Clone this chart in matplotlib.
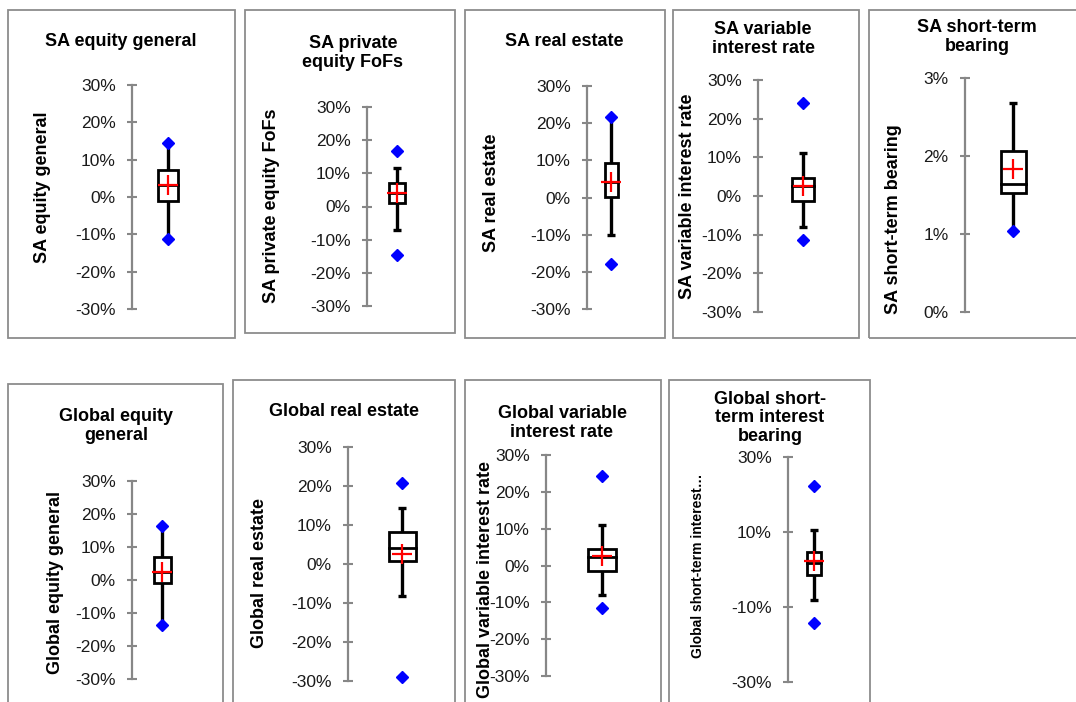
import numpy as np
import matplotlib
matplotlib.use("Agg")
import matplotlib.pyplot as plt
from matplotlib.patches import Rectangle
from matplotlib.ticker import FuncFormatter

plt.rcParams['font.family'] = ['Liberation Sans', 'DejaVu Sans']

# ---------------- data (fractions) ----------------
titles = ["SA equity general", "SA private\nequity FoFs", "SA real estate",
          "SA variable\ninterest rate", "SA short-term\nbearing",
          "Global equity\ngeneral", "Global real estate",
          "Global variable\ninterest rate", "Global short-\nterm interest\nbearing"]
ylabels = ["SA equity general", "SA private equity FoFs", "SA real estate",
           "SA variable interest rate", "SA short-term bearing",
           "Global equity general", "Global real estate",
           "Global variable interest rate", "Global short-term interest\u2026"]
minimum = [-0.113, -0.146, -0.178, -0.114, 0.0104, -0.136, -0.290, -0.116, -0.143]
whisk_lo = [-0.113, -0.070, -0.100, -0.080, 0.0104, -0.136, -0.082, -0.080, -0.082]
q1 = [-0.010, 0.011, 0.001, -0.012, 0.0153, -0.009, 0.008, -0.015, -0.015]
median = [0.032, 0.041, 0.042, 0.027, 0.0164, 0.024, 0.041, 0.023, 0.018]
mean = [0.033, 0.041, 0.042, 0.027, 0.0183, 0.024, 0.026, 0.025, 0.023]
q3 = [0.072, 0.071, 0.094, 0.046, 0.0206, 0.070, 0.082, 0.045, 0.047]
whisk_hi = [0.145, 0.116, 0.216, 0.111, 0.0268, 0.164, 0.144, 0.110, 0.105]
maximum = [0.145, 0.168, 0.216, 0.241, np.nan, 0.164, 0.208, 0.243, 0.223]
y_limits = [(-0.3, 0.3)] * 4 + [(0.0, 0.03)] + [(-0.3, 0.3)] * 4
y_ticks = [[-0.3, -0.2, -0.1, 0, 0.1, 0.2, 0.3]] * 4 + [[0, 0.01, 0.02, 0.03]] + \
          [[-0.3, -0.2, -0.1, 0, 0.1, 0.2, 0.3]] * 3 + [[-0.3, -0.1, 0.1, 0.3]]

# ---------------- layout (pixels) ----------------
W, H = 1076, 702
# axis_x, box_x, box_w, y_top(px of ylim max), y_bot(px of ylim min)
axes_geom = [(132, 168, 20, 85, 309),
             (367, 397, 16, 107, 306),
             (587, 611, 13, 86, 309),
             (758, 803, 22, 80, 312),
             (965, 1013, 25, 78, 312),
             (132, 162, 17, 481, 679),
             (348, 402, 27, 447, 681),
             (546, 602, 28, 455, 676),
             (788, 814, 14, 457, 682)]
frames = [(8, 10, 235, 338), (245, 10, 455, 333), (465, 10, 665, 338),
          (673, 10, 859, 338), (869, 10, 1090, 338),
          (8, 384, 223, 720), (233, 380, 455, 720), (465, 380, 661, 720),
          (669, 380, 870, 720)]
title_pos = [(121, 42), (353, 53), (564, 42), (763, 39), (977, 37),
             (116, 426), (344, 412), (562, 423), (770, 418)]
ylabel_pos = [(43, 187), (272, 206), (492, 193), (688, 196), (893, 219),
              (56, 583), (259, 573), (486, 580), (698, 566)]
ylabel_size = [13, 13, 13, 13, 13, 13, 13, 13, 10]

fig = plt.figure(figsize=(W / 100, H / 100), dpi=100)
fig.patch.set_facecolor('white')

def fx(x):
    return x / W

def fy(y):
    return 1 - y / H

grey = '#878787'

for (x0, y0, x1, y1) in frames:
    fig.patches.append(Rectangle((fx(x0), fy(y1)), fx(x1) - fx(x0), fy(y0) - fy(y1),
                                 transform=fig.transFigure, fill=False,
                                 edgecolor='#8c8c8c', lw=1.3, zorder=0))

pct = FuncFormatter(lambda v, p: f"{v * 100:.0f}%")

for i in range(9):
    ax_x, bx, bw, yt, yb = axes_geom[i]
    half = bx - ax_x
    ax = fig.add_axes([fx(ax_x), fy(yb), fx(2 * half), fy(yt) - fy(yb)])
    ax.set_xlim(0, 2)
    ax.set_ylim(*y_limits[i])
    ax.patch.set_alpha(0)
    for s in ['top', 'right', 'bottom']:
        ax.spines[s].set_visible(False)
    ax.spines['left'].set_color(grey)
    ax.spines['left'].set_linewidth(1.6)
    ax.set_xticks([])
    ax.set_yticks(y_ticks[i])
    ax.yaxis.set_major_formatter(pct)
    ax.tick_params(axis='y', direction='inout', length=7.5, width=1.5, color=grey,
                   labelsize=12.5, labelcolor='#1a1a1a', pad=8)
    w = bw / half
    # whiskers
    ax.vlines(1, whisk_lo[i], q1[i], color='black', lw=2.4, zorder=2)
    ax.vlines(1, q3[i], whisk_hi[i], color='black', lw=2.4, zorder=2)
    ax.plot([1, 1], [whisk_lo[i], whisk_hi[i]], ls='none', marker='_', ms=6,
            mew=2.4, color='black', zorder=2)
    # box
    ax.add_patch(Rectangle((1 - w / 2, q1[i]), w, q3[i] - q1[i], facecolor='white',
                           edgecolor='black', lw=2.0, zorder=3))
    ax.plot([1 - w / 2, 1 + w / 2], [median[i], median[i]], color='black', lw=2.0, zorder=4)
    # mean
    ax.plot([1], [mean[i]], marker='+', ms=14, mew=1.6, color='red', ls='none', zorder=5)
    # min / max
    ax.plot([1, 1], [minimum[i], maximum[i]], marker='D', ms=6, color='#0000ff',
            ls='none', zorder=6, clip_on=False)

    tx, ty = title_pos[i]
    fig.text(fx(tx), fy(ty), titles[i], ha='center', va='center', fontsize=13,
             fontweight='bold', linespacing=1.15)
    lx, ly = ylabel_pos[i]
    fig.text(fx(lx), fy(ly), ylabels[i], ha='center', va='center', rotation=90,
             fontsize=ylabel_size[i], fontweight='bold')

fig.savefig('out.png', dpi=100, facecolor='white')
